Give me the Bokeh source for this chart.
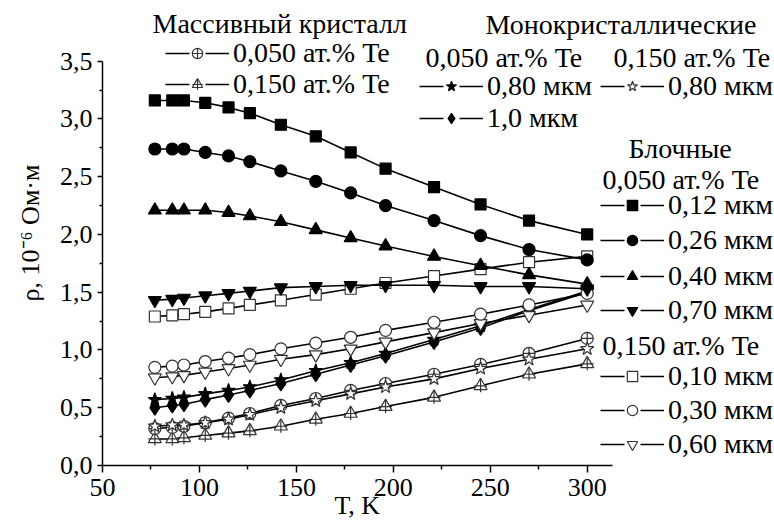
import numpy as np
from bokeh.plotting import figure
from bokeh.models import (Range1d, FixedTicker, CustomJSTickFormatter, Label,
                          Legend, LegendItem)
from bokeh.embed import file_html
from bokeh.resources import INLINE

# ---------------- data ----------------
T = [77, 86, 92, 103, 115, 126, 142, 160, 178, 196, 221, 245, 270, 300]

# Блочные, 0,050 ат.% Te
blk050_012 = [3.16, 3.16, 3.16, 3.14, 3.10, 3.05, 2.95, 2.85, 2.71, 2.57, 2.41, 2.26, 2.12, 2.00]
blk050_026 = [2.74, 2.74, 2.74, 2.71, 2.68, 2.63, 2.55, 2.46, 2.36, 2.25, 2.12, 1.99, 1.87, 1.78]
blk050_040 = [2.21, 2.21, 2.21, 2.21, 2.19, 2.16, 2.11, 2.04, 1.97, 1.90, 1.81, 1.73, 1.65, 1.57]
blk050_070 = [1.43, 1.44, 1.45, 1.47, 1.49, 1.51, 1.54, 1.55, 1.56, 1.56, 1.56, 1.55, 1.55, 1.53]
# Блочные, 0,150 ат.% Te
blk150_010 = [1.29, 1.30, 1.31, 1.33, 1.36, 1.39, 1.43, 1.48, 1.53, 1.58, 1.64, 1.70, 1.76, 1.81]
blk150_030 = [0.85, 0.86, 0.87, 0.90, 0.93, 0.96, 1.01, 1.06, 1.11, 1.17, 1.24, 1.31, 1.39, 1.49]
blk150_060 = [0.76, 0.77, 0.78, 0.81, 0.84, 0.87, 0.92, 0.96, 1.01, 1.07, 1.15, 1.23, 1.30, 1.39]
# Монокристаллические
mono050_080 = [0.57, 0.58, 0.59, 0.62, 0.65, 0.68, 0.74, 0.82, 0.89, 0.97, 1.09, 1.21, 1.35, 1.51]
mono050_100 = [0.50, 0.52, 0.53, 0.57, 0.61, 0.65, 0.71, 0.79, 0.87, 0.95, 1.07, 1.19, 1.34, 1.50]
mono150_080 = [0.34, 0.35, 0.35, 0.37, 0.40, 0.44, 0.50, 0.56, 0.62, 0.68, 0.75, 0.84, 0.92, 1.01]
# Массивный кристалл
mass050 = [0.32, 0.33, 0.34, 0.37, 0.41, 0.45, 0.52, 0.58, 0.65, 0.71, 0.79, 0.875, 0.97, 1.10]
mass150 = [0.23, 0.23, 0.24, 0.26, 0.28, 0.30, 0.34, 0.40, 0.45, 0.51, 0.59, 0.69, 0.79, 0.88]

x_ticks = [50, 100, 150, 200, 250, 300]
x_minor = [75, 125, 175, 225, 275]
y_ticks = [0.0, 0.5, 1.0, 1.5, 2.0, 2.5, 3.0, 3.5]
y_minor = [0.25, 0.75, 1.25, 1.75, 2.25, 2.75, 3.25]
x_axis_end = 313
y_axis_end = 3.5

# ---------------- layout ----------------
FONT = "Liberation Serif"
W, H = 774, 529
FL, FB = 102, 465            # frame left / bottom in page pixels
FW, FH = W - FL, FB          # frame reaches the right and top edges
SX = (586.7 - FL) / 250.0    # px per kelvin
SY = (FB - 60.7) / 3.5       # px per unit of rho
TXT = 28                     # legend / header font size (px)

p = figure(frame_width=FW, frame_height=FH,
           min_border_left=FL, min_border_top=0,
           min_border_right=0, min_border_bottom=H - FB,
           x_range=Range1d(50, 50 + FW / SX), y_range=Range1d(0, FH / SY),
           output_backend="svg", toolbar_location=None, tools="")
p.grid.visible = False
p.outline_line_color = None
p.background_fill_color = "white"
p.border_fill_color = "white"

p.xaxis.ticker = FixedTicker(ticks=x_ticks, minor_ticks=x_minor)
p.yaxis.ticker = FixedTicker(ticks=y_ticks, minor_ticks=y_minor)
p.yaxis.formatter = CustomJSTickFormatter(code="return tick.toFixed(1).replace('.', ',');")
p.xaxis.bounds = (50, x_axis_end)
p.yaxis.bounds = (0, y_axis_end)
for ax in p.axis:
    ax.axis_line_width = 1.5
    ax.axis_line_color = "black"
    ax.major_tick_line_width = 1.5
    ax.minor_tick_line_width = 1.5
    ax.major_tick_line_color = "black"
    ax.minor_tick_line_color = "black"
    ax.major_tick_in = 0
    ax.minor_tick_in = 0
    ax.major_label_text_font = FONT
    ax.major_label_text_font_size = "26px"
    ax.major_label_text_color = "black"
    ax.axis_label_text_font = FONT
    ax.axis_label_text_font_size = "26px"
    ax.axis_label_text_font_style = "normal"
    ax.axis_label_text_color = "black"
p.xaxis.major_tick_out = 7
p.xaxis.minor_tick_out = 4
p.yaxis.major_tick_out = 5
p.yaxis.minor_tick_out = 3
p.xaxis.major_label_standoff = 6
p.yaxis.major_label_standoff = 5
# the label is centred on the frame; non-breaking spaces move it under the axis
p.xaxis.axis_label = "T, K" + "\u00a0" * 25
p.yaxis.axis_label = "ρ, 10⁻⁶ Ом·м"
p.xaxis.axis_label_standoff = -8
p.yaxis.axis_label_standoff = 12

LW = 1.6
OPEN = "#333333"


def series(y, markers, size, fill, lcol="black"):
    p.line(T, y, line_color="black", line_width=LW)
    scs = []
    for m in markers:
        scs.append(p.scatter(T, y, marker=m, size=size, fill_color=fill,
                             line_color=lcol, line_width=1.2))
    return scs


def legline():
    # proxy renderer used only for the legend sample ("—o—")
    return p.line(x=np.array([np.nan]), y=np.array([np.nan]), line_color="black",
                  line_width=LW, line_dash="24 16 24")


s_m150 = series(mass150, ["triangle", "cross"], 13, "white", OPEN)
s_m050 = series(mass050, ["circle_cross"], 12, "white", OPEN)
s_mo150 = series(mono150_080, ["star"], 14, "white", OPEN)
s_mo100 = series(mono050_100, ["diamond"], 15, "black")
s_mo080 = series(mono050_080, ["star"], 14, "black")
s_b060 = series(blk150_060, ["inverted_triangle"], 13, "white", OPEN)
s_b030 = series(blk150_030, ["circle"], 12, "white", OPEN)
s_b010 = series(blk150_010, ["square"], 11, "white", OPEN)
s_b070 = series(blk050_070, ["inverted_triangle"], 13, "black")
s_b040 = series(blk050_040, ["triangle"], 13, "black")
s_b026 = series(blk050_026, ["circle"], 12, "black")
s_b012 = series(blk050_012, ["square"], 11, "black")

GW, GH = 64, 26
ROW = round(TXT * 1.107)     # height of one legend row (font ascent + descent)
STANDOFF = 4


def add_entry(label, scs, text_left_px, center_px):
    item = LegendItem(label=label, renderers=[legline()] + scs)
    left = text_left_px - STANDOFF - GW
    bottom = center_px + ROW / 2
    leg = Legend(items=[item], location=(left - FL, FB - bottom),
                 orientation="vertical", glyph_width=GW, glyph_height=GH,
                 label_height=GH, label_standoff=STANDOFF, spacing=0,
                 padding=0, margin=0, border_line_alpha=0,
                 background_fill_alpha=0, label_text_font=FONT,
                 label_text_font_size=f"{TXT}px", label_text_color="black")
    p.add_layout(leg)


def add_text(txt, left_px, center_px):
    p.add_layout(Label(x=left_px - FL, y=FB - center_px, x_units="screen",
                       y_units="screen", text=txt, text_font=FONT,
                       text_font_size=f"{TXT}px", text_color="black",
                       text_baseline="middle", text_align="left"))


# headers
add_text("Массивный кристалл", 152, 23)
add_text("Монокристаллические", 485, 24)
add_text("0,050 ат.% Te", 425, 57)
add_text("0,150 ат.% Te", 613, 57)
add_text("Блочные", 628, 148)
add_text("0,050 ат.% Te", 602, 179)
add_text("0,150 ат.% Te", 602, 345)

# legend entries
add_entry("0,050 ат.% Te", s_m050, 233, 53)
add_entry("0,150 ат.% Te", s_m150, 233, 84)
add_entry("0,80 мкм", s_mo080, 487, 86)
add_entry("1,0 мкм", s_mo100, 487, 118)
add_entry("0,80 мкм", s_mo150, 668, 86)
add_entry("0,12 мкм", s_b012, 668, 205)
add_entry("0,26 мкм", s_b026, 668, 240)
add_entry("0,40 мкм", s_b040, 668, 276)
add_entry("0,70 мкм", s_b070, 668, 310)
add_entry("0,10 мкм", s_b010, 668, 376)
add_entry("0,30 мкм", s_b030, 668, 410)
add_entry("0,60 мкм", s_b060, 668, 444)

open("out.html", "w").write(file_html(p, INLINE))
